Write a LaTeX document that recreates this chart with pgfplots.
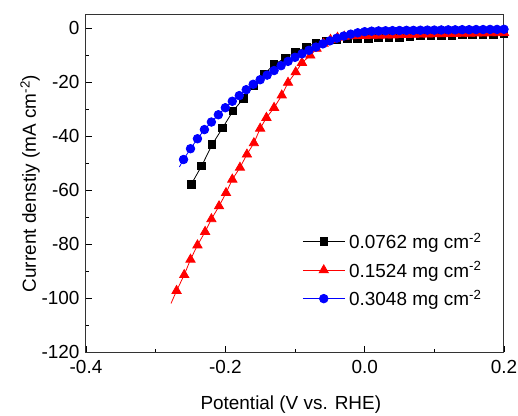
\documentclass[border=0pt]{standalone}
\usepackage{fontspec}
\setmainfont{Liberation Sans}
\usepackage{pgfplots}
\pgfplotsset{compat=1.18}
\begin{document}
\begin{tikzpicture}
\path[use as bounding box] (-86bp,-64bp) rectangle (432bp,352bp);
\begin{axis}[
  at={(0,0)}, anchor=south west,
  scale only axis, width=418bp, height=337bp,
  xmin=-0.4, xmax=0.2, ymin=-120, ymax=5,
  xtick={-0.4,-0.2,0,0.2}, minor xtick={-0.3,-0.1,0.1},
  ytick={-120,-100,-80,-60,-40,-20,0}, minor ytick={-110,-90,-70,-50,-30,-10},
  xtick pos=bottom, ytick pos=left,
  tick align=inside,
  major tick length=6bp, minor tick length=3.5bp,
  every tick/.style={black, line width=0.8bp},
  axis line style={line width=1bp, black!80},
  /pgf/number format/assume math mode=true,
  xticklabel style={/pgf/number format/fixed, /pgf/number format/fixed zerofill, /pgf/number format/precision=1, yshift=-5bp},
  yticklabel style={/pgf/number format/fixed, xshift=-3bp},
  tick label style={font=\fontsize{19}{22}\selectfont},
  label style={font=\fontsize{19}{22}\selectfont},
  xlabel={Potential (V vs. RHE)},
  ylabel={Current denstiy (mA cm\textsuperscript{-2})},
  xlabel style={at={(axis description cs:0.49,-0.157)}, anchor=center},
  ylabel style={at={(axis description cs:-0.134,0.5)}, anchor=center},
  legend style={draw=none, fill=none, font=\fontsize{19}{22}\selectfont,
    at={(axis description cs:0.51,0.365)}, anchor=north west,
    row sep=7.5bp, column sep=2bp},
  legend cell align=left,
  legend image code/.code={\draw[mark repeat=2,mark phase=2] plot coordinates {(0bp,0bp) (21bp,0bp) (42bp,0bp)};},
]
\addplot[black, line width=0.8bp, mark=square*, mark size=3.8bp, mark options={solid}] coordinates {
(-0.249,-57.8) (-0.234,-51.0) (-0.219,-43.1) (-0.204,-36.9) (-0.189,-30.6) (-0.174,-26.0)
(-0.159,-21.2) (-0.144,-16.8) (-0.130,-13.4) (-0.114,-10.9) (-0.099,-8.8) (-0.084,-6.9)
(-0.070,-5.4) (-0.055,-4.6) (-0.040,-4.1) (-0.025,-3.9) (-0.010,-3.8) (0.005,-3.7)
(0.020,-3.5) (0.035,-3.4) (0.050,-3.2) (0.065,-3.0) (0.080,-2.8) (0.095,-2.7)
(0.110,-2.6) (0.125,-2.5) (0.140,-2.4) (0.155,-2.3) (0.170,-2.2) (0.185,-2.1) (0.200,-2.0)
};
\addlegendentry{0.0762 mg cm\textsuperscript{-2}}
\addplot[red, line width=0.8bp, mark=triangle*, mark size=5.3bp, mark repeat=1, mark phase=2] coordinates {
(-0.278,-102.0) (-0.270,-97.3) (-0.259,-91.4) (-0.250,-85.7) (-0.240,-80.4) (-0.229,-75.4)
(-0.220,-70.7) (-0.209,-65.9) (-0.199,-61.0) (-0.190,-56.0) (-0.179,-51.6) (-0.169,-46.7)
(-0.159,-42.5) (-0.150,-37.1) (-0.141,-33.1) (-0.130,-29.4) (-0.119,-24.8) (-0.110,-20.1)
(-0.099,-16.2) (-0.090,-12.7) (-0.078,-10.0) (-0.069,-7.5) (-0.059,-5.6) (-0.049,-4.2)
(-0.039,-3.4) (-0.029,-3.0) (-0.019,-2.8) (-0.009,-2.7) (0.001,-2.7) (0.011,-2.6)
(0.021,-2.6) (0.031,-2.5) (0.041,-2.5) (0.051,-2.4) (0.061,-2.4) (0.071,-2.3)
(0.081,-2.2) (0.091,-2.2) (0.101,-2.1) (0.111,-2.1) (0.121,-2.0) (0.131,-2.0)
(0.141,-1.9) (0.151,-1.9) (0.161,-1.8) (0.171,-1.8) (0.181,-1.7) (0.191,-1.7) (0.200,-1.6)
};
\addlegendentry{0.1524 mg cm\textsuperscript{-2}}
\addplot[blue, line width=0.8bp, mark=*, mark size=4.3bp, mark repeat=1, mark phase=2] coordinates {
(-0.266,-51.4) (-0.260,-48.6) (-0.250,-44.6) (-0.240,-40.9) (-0.230,-37.5) (-0.220,-34.7)
(-0.210,-32.0) (-0.200,-29.4) (-0.190,-27.0) (-0.180,-24.9) (-0.170,-22.7) (-0.160,-20.7)
(-0.150,-19.0) (-0.140,-17.3) (-0.130,-15.6) (-0.120,-13.8) (-0.110,-12.2) (-0.100,-10.7)
(-0.090,-9.4) (-0.080,-8.1) (-0.070,-6.9) (-0.060,-5.7) (-0.050,-4.6) (-0.040,-3.6)
(-0.030,-2.8) (-0.020,-2.1) (-0.010,-1.6) (0.000,-1.2) (0.010,-1.0) (0.020,-0.9)
(0.030,-0.85) (0.040,-0.8) (0.050,-0.75) (0.060,-0.7) (0.070,-0.7) (0.080,-0.65)
(0.090,-0.6) (0.100,-0.6) (0.110,-0.55) (0.120,-0.5) (0.130,-0.5) (0.140,-0.45)
(0.150,-0.45) (0.160,-0.4) (0.170,-0.4) (0.180,-0.35) (0.190,-0.35) (0.200,-0.3)
};
\addlegendentry{0.3048 mg cm\textsuperscript{-2}}
\end{axis}
\end{tikzpicture}
\end{document}
